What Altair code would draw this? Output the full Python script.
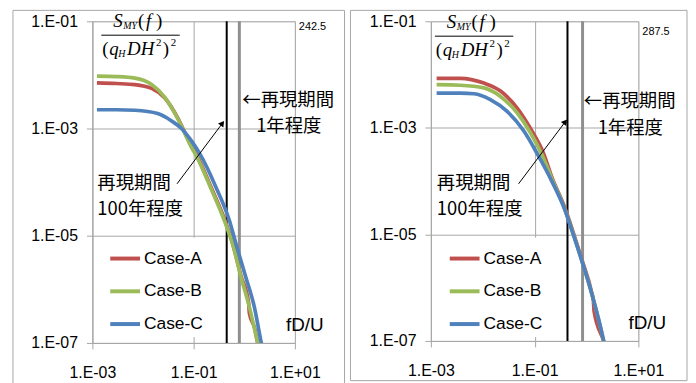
import math
import altair as alt
import pandas as pd

CASES = ["Case-A", "Case-B", "Case-C"]
COLORS = ["#C0504D", "#9BBB59", "#4F81BD"]

X_TICKS = [1e-3, 1e-1, 1e1]
X_TICK_LABELS = ["1.E-03", "1.E-01", "1.E+01"]
Y_TICKS = [1e-7, 1e-5, 1e-3, 1e-1]
Y_TICK_LABELS = ["1.E-07", "1.E-05", "1.E-03", "1.E-01"]

# ---------------- Panel 1 (242.5) ----------------
P1_LABEL = "242.5"
P1_A_F = [0.00123, 0.003, 0.0069, 0.0148, 0.027, 0.049, 0.089, 0.113, 0.22, 0.41, 0.59, 0.86, 1.22, 1.26, 1.6, 1.82, 2.0]
P1_A_S = [0.0071, 0.0069, 0.0066, 0.0056, 0.0037, 0.00155, 4.8e-4, 3.3e-4, 8.1e-5, 2.0e-5, 7.2e-6, 1.8e-6, 5.6e-7, 3.6e-7, 1.9e-7, 1.05e-7, 7.0e-8]
P1_B_F = [0.00123, 0.003, 0.0069, 0.0148, 0.027, 0.049, 0.089, 0.113, 0.22, 0.41, 0.59, 0.86, 1.26, 1.82, 2.0]
P1_B_S = [0.0095, 0.0093, 0.0087, 0.0066, 0.0038, 0.0015, 4.6e-4, 3.1e-4, 7.6e-5, 1.85e-5, 6.9e-6, 1.7e-6, 4.7e-7, 1.07e-7, 7.5e-8]
P1_C_F = [0.00123, 0.003, 0.0069, 0.0195, 0.036, 0.0575, 0.089, 0.132, 0.28, 0.51, 0.69, 1.07, 1.58, 2.14, 2.35]
P1_C_S = [0.00224, 0.00224, 0.00219, 0.0019, 0.0014, 0.001, 6.0e-4, 3.4e-4, 7.8e-5, 1.9e-5, 6.9e-6, 1.7e-6, 4.7e-7, 1.07e-7, 7.0e-8]
P1_REF_BLACK = [0.45]
P1_REF_GRAY = [0.80]
P1_ARROW_FROM = [0.047, 9.3e-5]
P1_ARROW_TO = [0.37, 1.25e-3]

# ---------------- Panel 2 (287.5) ----------------
P2_LABEL = "287.5"
P2_A_F = [0.00129, 0.0037, 0.0105, 0.022, 0.046, 0.083, 0.148, 0.214, 0.39, 0.53, 0.81, 1.26, 1.36, 1.40, 2.14, 2.3]
P2_A_S = [0.00851, 0.00851, 0.00692, 0.0049, 0.00234, 0.00097, 3.35e-4, 1.2e-4, 3.0e-5, 1.25e-5, 3.4e-6, 8.1e-7, 5.6e-7, 3.6e-7, 1.0e-7, 7.9e-8]
P2_B_F = [0.00129, 0.0037, 0.0105, 0.022, 0.046, 0.083, 0.138, 0.214, 0.39, 0.53, 0.81, 1.26, 2.14, 2.3]
P2_B_S = [0.00646, 0.00631, 0.00562, 0.00389, 0.00191, 8.1e-4, 3.16e-4, 1.12e-4, 2.82e-5, 1.17e-5, 3.24e-6, 7.8e-7, 1.0e-7, 7.1e-8]
P2_C_F = [0.00129, 0.0037, 0.0068, 0.014, 0.0295, 0.062, 0.11, 0.214, 0.39, 0.525, 0.81, 1.26, 2.14, 2.3]
P2_C_S = [0.00447, 0.00447, 0.00437, 0.00339, 0.00204, 8.7e-4, 3.39e-4, 1.0e-4, 2.75e-5, 1.17e-5, 3.24e-6, 7.8e-7, 1.0e-7, 7.1e-8]
P2_REF_BLACK = [0.43]
P2_REF_GRAY = [0.84]
P2_ARROW_FROM = [0.049, 8.9e-5]
P2_ARROW_TO = [0.39, 1.3e-3]

TXT_RETURN_1 = "←再現期間"
TXT_RETURN_1B = "1年程度"
TXT_RETURN_100 = "再現期間"
TXT_RETURN_100B = "100年程度"
TXT_XLABEL = "fD/U"

GRID = "#a6a6a6"
FRAME = "#a6a6a6"
SANS = "Liberation Sans"
CJK = "Noto Sans CJK JP"
SERIF = "Liberation Serif"

DUMMY = alt.Data(values=[{"k": 1}])


def label_expr(values, labels):
    expr = "''"
    for v, l in zip(values, labels):
        e = round(math.log10(v))
        expr = f"(round(log(datum.value)/LN10) == {e} ? '{l}' : {expr})"
    return expr


def text_layer(text, x, y, size, font=SANS, style="normal", align="left"):
    return alt.Chart(DUMMY).mark_text(
        text=text, fontSize=size, font=font, fontStyle=style, align=align,
        baseline="middle", color="black"
    ).encode(x=alt.value(x), y=alt.value(y))


def panel(series, ref_black, ref_gray, arrow_from, arrow_to, corner, w, h,
          frame, pos, fdx):
    rows = []
    for case, (fs, ss) in zip(CASES, series):
        for f, s in zip(fs, ss):
            rows.append({"f": f, "S": s, "case": case})
    df = pd.DataFrame(rows)

    xscale = alt.Scale(type="log", domain=[1e-3, 10])
    yscale = alt.Scale(type="log", domain=[1e-7, 1e-1])

    xaxis = alt.Axis(values=X_TICKS, labelExpr=label_expr(X_TICKS, X_TICK_LABELS),
                     grid=True, gridColor=GRID, tickColor=GRID, domainColor=GRID,
                     tickSize=6, labelFontSize=16, labelPadding=16, labelFont=SANS,
                     labelColor="black", title=None, labelFlush=False)
    yaxis = alt.Axis(values=Y_TICKS, labelExpr=label_expr(Y_TICKS, Y_TICK_LABELS),
                     grid=True, gridColor=GRID, tickColor=GRID, domainColor=GRID,
                     tickSize=6, labelFontSize=16, labelPadding=9, labelFont=SANS,
                     labelColor="black", title=None, labelFlush=False)

    fl, fr, ft, fb = frame
    frame_l = alt.Chart(DUMMY).mark_rect(fillOpacity=0, stroke=FRAME, strokeWidth=1).encode(
        x=alt.value(fl), x2=alt.value(fr), y=alt.value(ft), y2=alt.value(fb))

    base_axes = alt.Chart(df).mark_line(opacity=0).encode(
        x=alt.X("f:Q", scale=xscale, axis=xaxis),
        y=alt.Y("S:Q", scale=yscale, axis=yaxis))

    rb = alt.Chart(pd.DataFrame({"f": ref_black})).mark_rule(color="black", strokeWidth=2).encode(
        x=alt.X("f:Q", scale=xscale))
    rg = alt.Chart(pd.DataFrame({"f": ref_gray})).mark_rule(color="#8f8f8f", strokeWidth=3).encode(
        x=alt.X("f:Q", scale=xscale))

    lines = alt.Chart(df).mark_line(strokeWidth=3.7, clip=True, interpolate="monotone").encode(
        x=alt.X("f:Q", scale=xscale),
        y=alt.Y("S:Q", scale=yscale),
        color=alt.Color("case:N", scale=alt.Scale(domain=CASES, range=COLORS),
                        legend=alt.Legend(title=None, orient="none", legendX=pos["legx"],
                                          legendY=pos["legy"],
                                          symbolType="stroke", symbolSize=900,
                                          symbolStrokeWidth=4, labelFontSize=17.5,
                                          labelFont=SANS, labelColor="black",
                                          fillColor="white", padding=4, rowPadding=7,
                                          labelOffset=2)),
    )

    adf = pd.DataFrame({"f": [arrow_from[0]], "S": [arrow_from[1]],
                        "f2": [arrow_to[0]], "S2": [arrow_to[1]]})
    arrow = alt.Chart(adf).mark_rule(color="black", strokeWidth=1).encode(
        x=alt.X("f:Q", scale=xscale), y=alt.Y("S:Q", scale=yscale),
        x2="f2:Q", y2="S2:Q")
    head = alt.Chart(adf).mark_point(shape="triangle-up", filled=True, color="black",
                                     size=45, angle=37, opacity=1).encode(
        x=alt.X("f2:Q", scale=xscale), y=alt.Y("S2:Q", scale=yscale))

    texts = [
        text_layer(corner, pos["corner"][0], pos["corner"][1], 11),
        text_layer(TXT_XLABEL, pos["fdu"][0], pos["fdu"][1], 19),
        text_layer(TXT_RETURN_1, pos["r1"][0], pos["r1"][1], 18.5, font=CJK),
        text_layer(TXT_RETURN_1B, pos["r1b"][0], pos["r1b"][1], 18.5, font=CJK),
        text_layer(TXT_RETURN_100, pos["r100"][0], pos["r100"][1], 18.5, font=CJK),
        text_layer(TXT_RETURN_100B, pos["r100b"][0], pos["r100b"][1], 18.5, font=CJK),
    ]
    # formula S_MY(f) / (q_H D H^2)^2
    fy = pos["fy"]
    formula = [
        ("S", 21, 0, 19, "italic"), ("MY", 31, 5, 10, "italic"),
        ("(", 46, 0, 19, "normal"), ("f", 54, 0, 19, "italic"), (")", 64, 0, 19, "normal"),
        ("(", 10, 28, 19, "normal"), ("q", 17, 28, 19, "italic"), ("H", 26, 33, 10, "italic"),
        ("DH", 35, 28, 19, "italic"), ("2", 64, 22, 11, "normal"),
        (")", 71, 28, 19, "normal"), ("2", 79, 22, 11, "normal"),
    ]
    for t, x, y, s, st in formula:
        texts.append(text_layer(t, x + fdx, y + fy, s, font=SERIF, style=st))
    bar = alt.Chart(DUMMY).mark_rule(color="black", strokeWidth=1).encode(
        x=alt.value(9 + fdx), x2=alt.value(88 + fdx), y=alt.value(14 + fy))

    return alt.layer(frame_l, base_axes, rb, rg, lines, arrow, head, bar, *texts).properties(
        width=w, height=h)


left = panel([(P1_A_F, P1_A_S), (P1_B_F, P1_B_S), (P1_C_F, P1_C_S)],
             P1_REF_BLACK, P1_REF_GRAY, P1_ARROW_FROM, P1_ARROW_TO, P1_LABEL,
             204, 324, (-80, 254, -11, 366),
             {"corner": (208, 6), "fdu": (195, 306), "r1": (151, 79), "r1b": (165, 106),
              "r100": (5, 163), "r100b": (5, 189), "fy": 0, "legy": 218, "legx": 12}, 0)
right = panel([(P2_A_F, P2_A_S), (P2_B_F, P2_B_S), (P2_C_F, P2_C_S)],
              P2_REF_BLACK, P2_REF_GRAY, P2_ARROW_FROM, P2_ARROW_TO, P2_LABEL,
              209, 322, (-81, 258, -11, 362),
              {"corner": (213, 11), "fdu": (199, 304), "r1": (154, 80), "r1b": (168, 108),
               "r100": (6, 163), "r100b": (6, 189), "fy": 1, "legy": 218, "legx": 13}, -5)

chart = alt.hconcat(left, right, spacing=4).resolve_scale(color="independent").properties(
    padding={"left": 4, "top": 0, "right": 0, "bottom": 0}
).configure_view(strokeWidth=0).configure(background="white")

chart.save("out.html", embed_options={"renderer": "svg", "actions": False})
